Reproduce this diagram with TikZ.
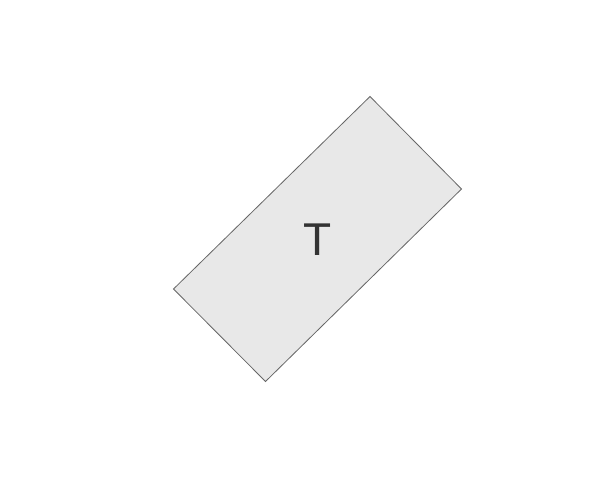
\documentclass[tikz,border=0pt]{standalone}
\usepackage{fontspec}
\setmainfont{Liberation Sans}
\definecolor{boxfill}{HTML}{E8E8E8}
\definecolor{boxline}{HTML}{666666}
\definecolor{txt}{HTML}{333333}
\begin{document}
\begin{tikzpicture}[x=1pt,y=-1pt,
  boxshape/.style={fill=boxfill,draw=boxline,line width=0.8pt},
  lbl/.style={text=txt,font=\fontsize{46}{46}\selectfont,inner sep=0pt}]
\useasboundingbox[fill=white] (0,0) rectangle (600,493);
\coordinate (ctop) at (370,96.5);
\coordinate (cright) at (461.5,189);
\coordinate (cbottom) at (265.5,381.5);
\coordinate (cleft) at (173.5,289);
\draw[boxshape] (ctop) -- (cright) -- (cbottom) -- (cleft) -- cycle;
\node[lbl,anchor=base] (T) at (317.5,255.5) {T};
\end{tikzpicture}
\end{document}
